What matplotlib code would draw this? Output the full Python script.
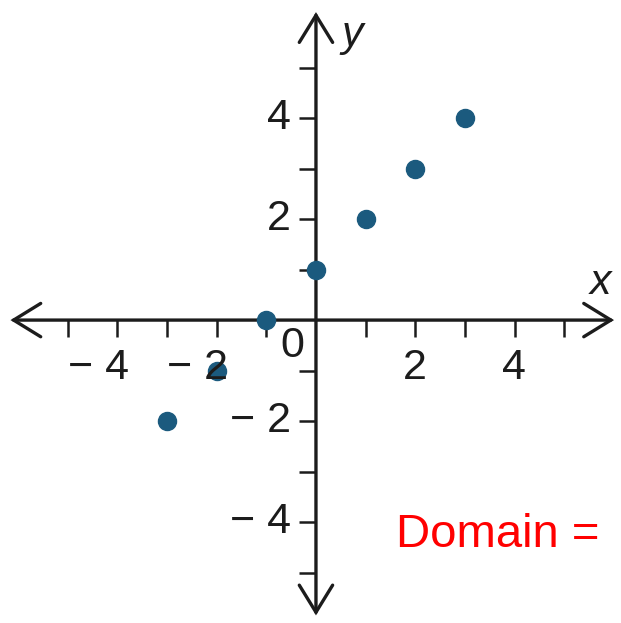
"""
plot.py
-------
Coordinate-plane scatter of seven points with arrowed axes,
tick marks at every integer and labels on the even ones.
"""

import matplotlib
matplotlib.use('Agg')
import matplotlib.pyplot as plt
from matplotlib.patches import FancyArrowPatch

# points plotted on the grid
x_vals = [-3, -2, -1, 0, 1, 2, 3]
y_vals = [-2, -1, 0, 1, 2, 3, 4]

# tick positions and which of them get a label
tick_pos = [-5, -4, -3, -2, -1, 1, 2, 3, 4, 5]
label_pos = [-4, -2, 2, 4]

INK = '#1c1c1c'
DOT = '#1b5a7e'

fig = plt.figure(figsize=(6.21, 6.23), dpi=100)
ax = fig.add_axes([0, 0, 1, 1])
ax.set_xlim(-6.36, 6.14)
ax.set_ylim(-6.0, 6.34)
ax.axis('off')

# axes with open arrowheads at both ends
style = '<->,head_length=0.65,head_width=0.4'
for a, b in [((-6.15, 0), (6.0, 0)), ((0, -5.85), (0, 6.1))]:
    ax.add_patch(FancyArrowPatch(a, b, arrowstyle=style, mutation_scale=30,
                                 lw=2.4, color=INK, shrinkA=0, shrinkB=0,
                                 capstyle='round', joinstyle='miter'))

# tick marks: below the x-axis, left of the y-axis
ax.vlines(tick_pos, -0.34, 0, color=INK, lw=1.8)
ax.hlines(tick_pos, -0.34, 0, color=INK, lw=1.8)

font = dict(family=['Liberation Sans', 'DejaVu Sans'], fontsize=31, color=INK)
for t in label_pos:
    txt = f'\u2212 {abs(t)}' if t < 0 else str(t)
    ax.text(t + 0.23, -0.55, txt, ha='right', va='top', **font)
    ax.text(-0.5, t, txt, ha='right', va='center', **font)
ax.text(-0.48, -0.52, '0', ha='center', va='center', **font)

ax.text(5.72, 0.74, 'x', ha='center', va='center', style='italic', **font)
ax.text(0.72, 5.64, 'y', ha='center', va='center', style='italic', **font)

ax.plot(x_vals, y_vals, 'o', color=DOT, ms=13, mec=DOT)

ax.text(1.62, -4.5, 'Domain =', ha='left', va='baseline', color='#ff0000',
        fontsize=34, family=['Liberation Sans', 'DejaVu Sans'])

fig.savefig('out.png', dpi=100)
plt.close(fig)
